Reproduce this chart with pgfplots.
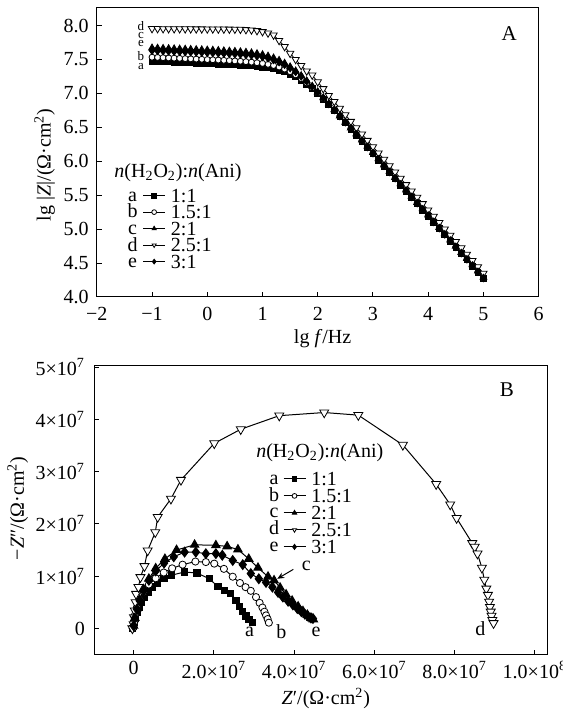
\documentclass[border=0pt]{standalone}
\usepackage{fontspec}
\setmainfont{Liberation Serif}
\usepackage{pgfplots}
\usepackage{pgfplotstable}
\pgfplotsset{compat=1.18}
\usetikzlibrary{arrows.meta}

\pgfplotstableread{
x a b c d e
-1.0 7.475 7.535 7.670 7.955 7.630
-0.9 7.472 7.532 7.667 7.955 7.627
-0.8 7.468 7.528 7.664 7.954 7.624
-0.7 7.465 7.525 7.661 7.954 7.621
-0.6 7.461 7.521 7.658 7.953 7.618
-0.5 7.458 7.518 7.655 7.953 7.615
-0.4 7.454 7.514 7.652 7.952 7.612
-0.3 7.451 7.511 7.649 7.952 7.609
-0.2 7.447 7.507 7.646 7.951 7.606
-0.1 7.444 7.504 7.643 7.951 7.603
0.0 7.440 7.500 7.640 7.950 7.600
0.1 7.436 7.497 7.637 7.950 7.597
0.2 7.433 7.493 7.633 7.949 7.593
0.3 7.429 7.489 7.628 7.948 7.589
0.4 7.425 7.485 7.624 7.947 7.585
0.5 7.420 7.480 7.620 7.946 7.580
0.6 7.416 7.475 7.614 7.945 7.575
0.7 7.411 7.469 7.607 7.940 7.569
0.8 7.405 7.462 7.598 7.935 7.561
0.9 7.398 7.454 7.586 7.925 7.550
1.0 7.389 7.444 7.571 7.910 7.537
1.1 7.378 7.430 7.550 7.890 7.519
1.2 7.363 7.413 7.523 7.860 7.495
1.3 7.344 7.390 7.488 7.780 7.463
1.4 7.319 7.360 7.445 7.690 7.424
1.5 7.286 7.322 7.392 7.590 7.375
1.6 7.245 7.275 7.331 7.500 7.318
1.7 7.195 7.219 7.262 7.410 7.252
1.8 7.137 7.155 7.186 7.330 7.180
1.9 7.070 7.084 7.106 7.270 7.102
2.0 6.997 7.007 7.023 7.170 7.019
2.1 6.918 6.925 6.936 7.070 6.934
2.2 6.836 6.841 6.848 6.970 6.847
2.3 6.750 6.754 6.759 6.880 6.758
2.4 6.663 6.665 6.669 6.780 6.668
2.5 6.574 6.575 6.578 6.685 6.577
2.6 6.476 6.485 6.493 6.587 6.486
2.7 6.385 6.394 6.404 6.494 6.395
2.8 6.293 6.303 6.313 6.400 6.304
2.9 6.202 6.212 6.222 6.307 6.212
3.0 6.110 6.120 6.130 6.214 6.120
3.1 6.018 6.028 6.038 6.121 6.028
3.2 5.926 5.936 5.946 6.028 5.936
3.3 5.834 5.844 5.854 5.934 5.844
3.4 5.742 5.752 5.762 5.841 5.752
3.5 5.650 5.660 5.670 5.748 5.660
3.6 5.558 5.568 5.578 5.655 5.568
3.7 5.466 5.476 5.486 5.562 5.476
3.8 5.374 5.384 5.394 5.468 5.384
3.9 5.282 5.292 5.302 5.375 5.292
4.0 5.190 5.200 5.210 5.282 5.200
4.1 5.098 5.108 5.118 5.189 5.108
4.2 5.006 5.016 5.026 5.096 5.016
4.3 4.914 4.924 4.934 5.002 4.924
4.4 4.822 4.832 4.842 4.909 4.832
4.5 4.730 4.740 4.750 4.816 4.740
4.6 4.638 4.648 4.658 4.723 4.648
4.7 4.546 4.556 4.566 4.630 4.556
4.8 4.454 4.464 4.474 4.536 4.464
4.9 4.362 4.372 4.382 4.443 4.372
5.0 4.270 4.280 4.290 4.350 4.280
}\bode

\pgfplotstableread{
x y
-0.03 0.00
0.00 0.05
0.02 0.12
0.05 0.20
0.09 0.30
0.14 0.40
0.20 0.50
0.27 0.60
0.36 0.70
0.47 0.79
0.60 0.87
0.76 0.95
0.95 1.02
1.27 1.08
1.58 1.06
1.89 0.95
2.10 0.80
2.26 0.73
2.42 0.67
2.55 0.54
2.64 0.42
2.72 0.32
2.80 0.24
2.88 0.17
2.96 0.11
}\nyqa

\pgfplotstableread{
x y
-0.02 0.00
0.00 0.10
0.03 0.25
0.08 0.40
0.15 0.55
0.25 0.70
0.38 0.84
0.55 0.96
0.75 1.07
0.96 1.15
1.22 1.22
1.54 1.28
1.80 1.27
2.01 1.24
2.25 1.14
2.47 0.99
2.65 0.87
2.79 0.79
2.92 0.72
3.05 0.60
3.14 0.49
3.21 0.40
3.26 0.32
3.30 0.25
3.34 0.18
3.37 0.11
}\nyqb

\pgfplotstableread{
x y
0.00 0.05
0.03 0.20
0.08 0.38
0.15 0.55
0.25 0.75
0.38 0.95
0.55 1.15
0.78 1.33
1.07 1.50
1.52 1.60
2.05 1.59
2.33 1.57
2.60 1.51
2.87 1.33
3.10 1.16
3.35 0.99
3.50 0.92
3.65 0.78
3.80 0.65
3.95 0.53
4.10 0.42
4.22 0.33
4.33 0.26
4.42 0.20
4.48 0.17
}\nyqc

\pgfplotstableread{
x y
-0.03 0.00
0.00 0.08
0.01 0.21
0.03 0.34
0.05 0.50
0.06 0.66
0.12 0.79
0.17 0.98
0.27 1.19
0.35 1.49
0.54 1.84
0.60 2.13
0.93 2.48
1.18 2.84
2.01 3.54
2.67 3.81
3.63 4.07
4.75 4.13
5.60 4.08
6.71 3.51
7.54 2.76
7.89 2.37
8.05 2.11
8.44 1.63
8.50 1.56
8.57 1.43
8.68 1.16
8.74 0.93
8.79 0.76
8.83 0.64
8.86 0.51
8.88 0.41
8.90 0.32
8.92 0.24
8.94 0.16
8.97 0.10
}\nyqd

\pgfplotstableread{
x y
0.00 0.05
0.03 0.20
0.08 0.37
0.15 0.53
0.25 0.72
0.38 0.92
0.55 1.10
0.76 1.25
1.00 1.37
1.27 1.46
1.55 1.46
1.80 1.43
2.05 1.43
2.21 1.40
2.47 1.30
2.72 1.22
2.92 1.05
3.12 0.95
3.30 0.88
3.46 0.79
3.60 0.69
3.72 0.60
3.85 0.52
3.97 0.45
4.08 0.38
4.18 0.32
4.27 0.27
4.35 0.23
4.42 0.20
4.47 0.19
}\nyqe

\pgfplotsset{
  myaxis/.style={
    scale only axis,
    axis line style={line width=0.5bp},
    every tick/.style={line width=0.5bp, black},
    major tick length=2.5bp,
    tick align=inside,
    xtick pos=bottom, ytick pos=left,
    font=\fontsize{10bp}{12bp}\selectfont,
    legend cell align=left,
    legend image code/.code={\draw[mark repeat=2,mark phase=2,##1] plot coordinates {(0bp,0bp) (5.5bp,0bp) (11bp,0bp)};},
    legend image post style={mark size=1.2bp},
  },
}
\tikzset{smallletter/.style={font=\fontsize{6.5bp}{7bp}\selectfont, inner sep=0pt}}

\begin{document}
\begin{tikzpicture}
\useasboundingbox (0,0) rectangle (281.5bp,354.5bp);

% ---------------- Panel A ----------------
\begin{axis}[myaxis,
  at={(48.4bp,206bp)}, anchor=south west,
  width=220.95bp, height=144.5bp,
  xmin=-2, xmax=6, ymin=4, ymax=8.26,
  xtick={-2,-1,0,1,2,3,4,5,6},
  xticklabels={−2,−1,0,1,2,3,4,5,6},
  ytick={4,4.5,5,5.5,6,6.5,7,7.5,8},
  yticklabels={4.0,4.5,5.0,5.5,6.0,6.5,7.0,7.5,8.0},
  xticklabel style={yshift=-1.8bp},
  yticklabel style={xshift=-0.6bp},
  xlabel={lg \textit{f}/Hz},
  ylabel={lg |\textit{Z}|/(Ω·cm\textsuperscript{2})},
  xlabel style={at={(axis description cs:0.511,-0.143)}, anchor=center},
  ylabel style={at={(axis description cs:-0.118,0.457)}, anchor=center},
  legend style={at={(axis description cs:0.104,0.374)}, anchor=north west,
    draw=none, fill=none, inner sep=0pt, outer sep=0pt,
    row sep=1.55bp, column sep=2.7bp,
    nodes={inner sep=0pt, text height=6.7bp, text depth=0bp}},
]
\addplot[black, line width=0.4bp, mark=square*, mark size=1.45bp] table[x=x,y=a]{\bode};
\addlegendentry{1:1}
\addplot[black, line width=0.4bp, mark=*, mark size=1.5bp, mark options={fill=white, line width=0.4bp}] table[x=x,y=b]{\bode};
\addlegendentry{1.5:1}
\addplot[black, line width=0.4bp, mark=triangle*, mark size=2.0bp] table[x=x,y=c]{\bode};
\addlegendentry{2:1}
\addplot[black, line width=0.4bp, mark=triangle*, mark size=2.1bp, mark options={fill=white, rotate=180, line width=0.4bp}] table[x=x,y=d]{\bode};
\addlegendentry{2.5:1}
\addplot[black, line width=0.4bp, mark=diamond*, mark size=1.9bp] table[x=x,y=e]{\bode};
\addlegendentry{3:1}

\node[anchor=mid west] at (axis description cs:0.024,0.429) {\textit{n}(H\textsubscript{2}O\textsubscript{2}):\textit{n}(Ani)};
\node[anchor=mid] at (axis description cs:0.081,0.346) {a};
\node[anchor=mid] at (axis description cs:0.081,0.291) {b};
\node[anchor=mid] at (axis description cs:0.081,0.232) {c};
\node[anchor=mid] at (axis description cs:0.081,0.173) {d};
\node[anchor=mid] at (axis description cs:0.081,0.118) {e};
\node[smallletter] at (axis cs:-1.2,8.00) {d};
\node[smallletter] at (axis cs:-1.2,7.86) {c};
\node[smallletter] at (axis cs:-1.2,7.74) {e};
\node[smallletter] at (axis cs:-1.2,7.55) {b};
\node[smallletter] at (axis cs:-1.2,7.40) {a};
\node[font=\fontsize{10.5bp}{12bp}\selectfont] at (axis description cs:0.933,0.912) {A};
\end{axis}

% ---------------- Panel B ----------------
\begin{axis}[myaxis,
  at={(47.15bp,27.2bp)}, anchor=south west,
  width=226.5bp, height=144.3bp,
  xmin=-0.98, xmax=10.31, ymin=-0.5, ymax=5.02,
  xtick={0,2,4,6,8,10},
  xticklabels={0,2.0×10\textsuperscript{7},4.0×10\textsuperscript{7},6.0×10\textsuperscript{7},8.0×10\textsuperscript{7},1.0×10\textsuperscript{8}},
  ytick={0,1,2,3,4,5},
  yticklabels={0,1×10\textsuperscript{7},2×10\textsuperscript{7},3×10\textsuperscript{7},4×10\textsuperscript{7},5×10\textsuperscript{7}},
  yticklabel style={xshift=-1.2bp},
  xlabel={\textit{Z}′/(Ω·cm\textsuperscript{2})},
  ylabel={−\textit{Z}″/(Ω·cm\textsuperscript{2})},
  xlabel style={at={(axis description cs:0.511,-0.151)}, anchor=center},
  ylabel style={at={(axis description cs:-0.169,0.507)}, anchor=center},
  legend style={at={(axis description cs:0.4166,0.632)}, anchor=north west,
    draw=none, fill=none, inner sep=0pt, outer sep=0pt,
    row sep=1.8bp, column sep=2.7bp,
    nodes={inner sep=0pt, text height=6.7bp, text depth=0bp}},
]
\addplot[black, line width=0.5bp, mark=square*, mark size=1.6bp] table[x=x,y=y]{\nyqa};
\addlegendentry{1:1}
\addplot[black, line width=0.5bp, mark=*, mark size=1.8bp, mark options={fill=white, line width=0.4bp}] table[x=x,y=y]{\nyqb};
\addlegendentry{1.5:1}
\addplot[black, line width=0.5bp, mark=triangle*, mark size=2.4bp] table[x=x,y=y]{\nyqc};
\addlegendentry{2:1}
\addplot[black, line width=0.5bp, mark=triangle*, mark size=2.6bp, mark options={fill=white, rotate=180, line width=0.4bp}] table[x=x,y=y]{\nyqd};
\addlegendentry{2.5:1}
\addplot[black, line width=0.5bp, mark=diamond*, mark size=2.4bp] table[x=x,y=y]{\nyqe};
\addlegendentry{3:1}

\node[anchor=mid west] at (axis description cs:0.342,0.699) {\textit{n}(H\textsubscript{2}O\textsubscript{2}):\textit{n}(Ani)};
\node[anchor=mid] at (axis description cs:0.397,0.605) {a};
\node[anchor=mid] at (axis description cs:0.397,0.546) {b};
\node[anchor=mid] at (axis description cs:0.397,0.491) {c};
\node[anchor=mid] at (axis description cs:0.397,0.432) {d};
\node[anchor=mid] at (axis description cs:0.397,0.373) {e};
\node at (axis cs:2.89,-0.07) {a};
\node at (axis cs:3.68,-0.07) {b};
\node at (axis cs:4.55,-0.07) {e};
\node at (axis cs:8.64,0.0) {d};
\draw[line width=0.5bp, -{Stealth[length=3.5bp,width=3bp]}] (axis cs:3.98,1.13) -- (axis cs:3.58,0.95);
\node[anchor=west] at (axis cs:4.02,1.2) {c};
\node[font=\fontsize{10.5bp}{12bp}\selectfont] at (axis description cs:0.911,0.917) {B};
\end{axis}
\end{tikzpicture}
\end{document}
